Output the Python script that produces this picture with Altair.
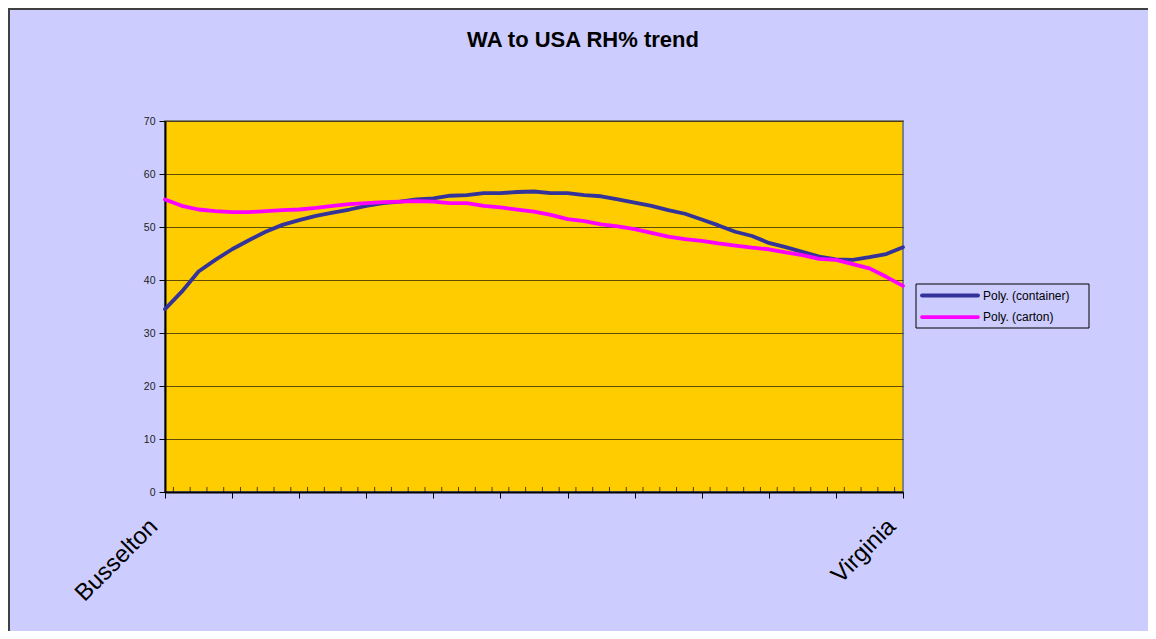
import altair as alt
import pandas as pd

# ---------------- data ----------------
title_text = "WA to USA RH% trend"
series_names = ["Poly. (container)", "Poly. (carton)"]
series_colors = ["#333399", "#FF00FF"]
first_label = "Busselton"
last_label = "Virginia"

positions = list(range(45))
container = [34.5, 37.8, 41.6, 43.8, 45.8, 47.5, 49.1, 50.4, 51.3, 52.1,
             52.7, 53.3, 54.0, 54.5, 54.8, 55.2, 55.4, 55.9, 56.0, 56.4,
             56.4, 56.6, 56.7, 56.4, 56.4, 56.0, 55.8, 55.2, 54.6, 54.0,
             53.2, 52.5, 51.4, 50.3, 49.1, 48.3, 47.0, 46.2, 45.3, 44.4,
             43.9, 43.8, 44.3, 44.9, 46.2]
carton = [55.2, 54.0, 53.3, 53.0, 52.8, 52.8, 53.0, 53.2, 53.3, 53.6,
          54.0, 54.3, 54.5, 54.7, 54.8, 54.9, 54.8, 54.5, 54.5, 54.0,
          53.7, 53.3, 52.9, 52.3, 51.5, 51.1, 50.5, 50.1, 49.6, 48.9,
          48.2, 47.7, 47.4, 46.9, 46.5, 46.1, 45.8, 45.2, 44.7, 44.0,
          43.8, 43.0, 42.2, 40.6, 38.9]
y_ticks = [0, 10, 20, 30, 40, 50, 60, 70]

df = pd.DataFrame({
    "pos": positions + positions,
    "value": container + carton,
    "series": [series_names[0]] * len(positions) + [series_names[1]] * len(positions),
})
half_ticks = pd.DataFrame({"pos": [p + 0.5 for p in positions[:-1]]})

# ---------------- layout ----------------
W, H = 738, 371
PAD_L, PAD_T = 157, 113
TOTAL_W, TOTAL_H = 1140, 623
FONT = "Liberation Sans"
BG = "#CCCCFF"

x_scale = alt.Scale(domain=[positions[0], positions[-1]], nice=False, zero=False)
y_scale = alt.Scale(domain=[0, 70], nice=False)

label_expr = (f"datum.value == {positions[0]} ? '{first_label}' : "
              f"(datum.value == {positions[-1]} ? '{last_label}' : '')")

lines = alt.Chart(df).mark_line(strokeWidth=3.8, strokeCap="round", strokeJoin="round").encode(
    x=alt.X("pos:Q", scale=x_scale, title=None,
            axis=alt.Axis(values=positions, labelExpr=label_expr, labelAngle=315,
                          labelAlign="right", labelBaseline="top", labelPadding=16,
                          labelOffset=-20,
                          labelFontSize=24, labelFont=FONT, labelColor="black",
                          tickSize=6, tickColor="black", tickWidth=1,
                          domainColor="black", domainWidth=2, grid=False,
                          labelOverlap=False, labelBound=False, labelFlush=False)),
    y=alt.Y("value:Q", scale=y_scale, title=None,
            axis=alt.Axis(values=y_ticks, labelFontSize=10.5, labelFont=FONT,
                          labelColor="#222222", labelPadding=4,
                          tickSize=6, tickColor="black", tickWidth=1,
                          domainColor="black", domainWidth=2,
                          grid=True, gridColor="#3a2a00", gridWidth=1.2, gridOpacity=0.8)),
    color=alt.Color("series:N", scale=alt.Scale(domain=series_names, range=series_colors),
                    legend=None),
)

up_ticks = alt.Chart(half_ticks).mark_tick(orient="vertical", size=5, thickness=1,
                                           color="black", yOffset=-2.5).encode(
    x=alt.X("pos:Q", scale=x_scale),
    y=alt.datum(0),
)

# outer chart border (top and left edges, as in the reference)
border_top = alt.Chart().mark_rule(color="#404040", strokeWidth=2).encode(
    x=alt.value(-PAD_L), x2=alt.value(TOTAL_W - PAD_L), y=alt.value(-PAD_T + 1))
border_left = alt.Chart().mark_rule(color="#404040", strokeWidth=2).encode(
    x=alt.value(-PAD_L + 1), y=alt.value(-PAD_T), y2=alt.value(TOTAL_H - PAD_T))

# title
title = alt.Chart().mark_text(text=title_text, font=FONT, fontSize=22, fontWeight="bold",
                              color="black", align="center", baseline="alphabetic").encode(
    x=alt.value(418), y=alt.value(-74))

# legend (drawn box with one stroke + label per series)
LEG_X, LEG_Y, LEG_W, LEG_H = 751, 163, 173, 44
legend_layers = [
    alt.Chart().mark_rect(fill=BG, stroke="black", strokeWidth=1).encode(
        x=alt.value(LEG_X), x2=alt.value(LEG_X + LEG_W),
        y=alt.value(LEG_Y), y2=alt.value(LEG_Y + LEG_H))
]
for i, (name, col) in enumerate(zip(series_names, series_colors)):
    row_y = LEG_Y + 11.5 + 21.6 * i
    legend_layers.append(
        alt.Chart().mark_rule(color=col, strokeWidth=3.8, strokeCap="round").encode(
            x=alt.value(LEG_X + 6), x2=alt.value(LEG_X + 62), y=alt.value(row_y)))
    legend_layers.append(
        alt.Chart().mark_text(text=name, font=FONT, fontSize=12, color="black",
                              align="left", baseline="middle").encode(
            x=alt.value(LEG_X + 67), y=alt.value(row_y)))

chart = alt.layer(up_ticks, lines, border_top, border_left, title, *legend_layers).properties(
    width=W, height=H,
    background=BG,
    autosize=alt.AutoSizeParams(type="none"),
    padding={"left": PAD_L, "top": PAD_T, "right": TOTAL_W - PAD_L - W,
             "bottom": TOTAL_H - PAD_T - H},
).configure_view(fill="#FFCC00", stroke="#808080", strokeWidth=2)

chart.save("out.html", embed_options={"renderer": "svg", "actions": False})
